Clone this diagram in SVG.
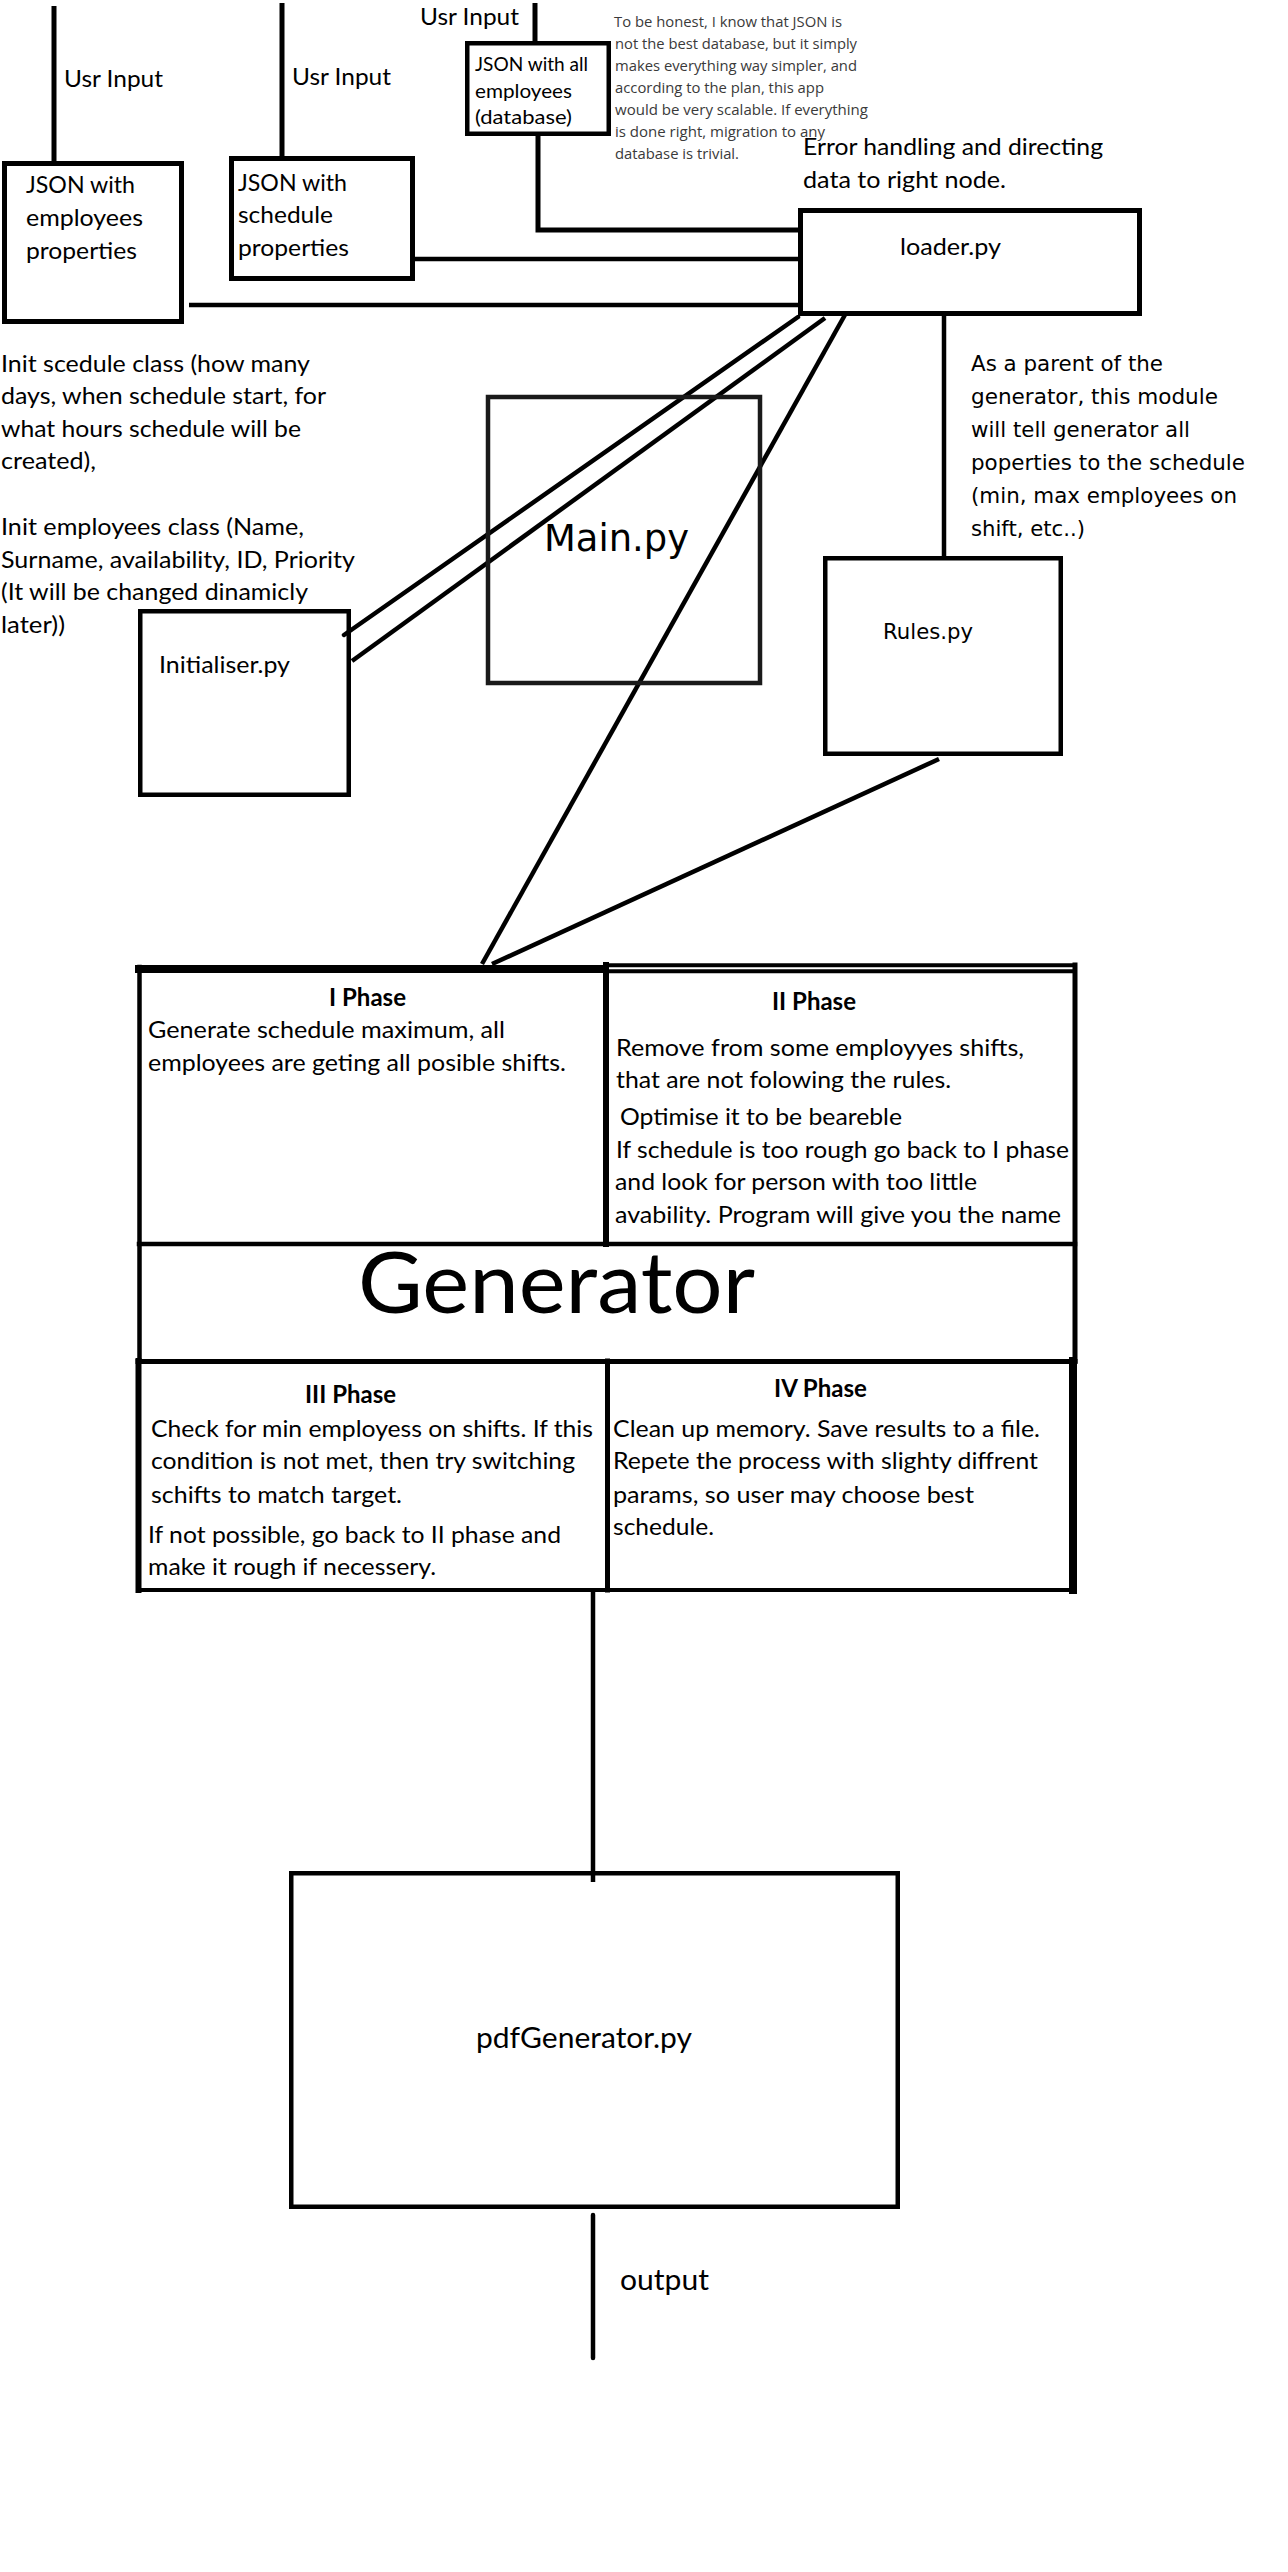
<svg xmlns="http://www.w3.org/2000/svg" width="1288" height="2572" viewBox="0 0 1288 2572">
<style>
.bg{fill:#ffffff}
.box{fill:none;stroke:#000;stroke-width:4.5}
.ln{fill:none;stroke:#000;stroke-width:4.5;stroke-linecap:butt}
.gl{fill:none;stroke:#000;stroke-linecap:square}
.c{font-family:Lato,"Liberation Sans",sans-serif;font-size:24px;fill:#000}
.cs{font-family:Lato,"Liberation Sans",sans-serif;font-size:19px;fill:#000}
.cb{font-family:Lato,"Liberation Sans",sans-serif;font-size:24px;font-weight:bold;fill:#000}
.v{font-family:"DejaVu Sans","Liberation Sans",sans-serif;font-size:21px;fill:#000}
.n{font-family:"Open Sans","Noto Sans",sans-serif;font-size:15px;fill:#3a3a3a}
</style>
<rect class="bg" x="0" y="0" width="1288" height="2572"/>

<g id="connectors">
<line class="ln" x1="54" y1="6" x2="54" y2="161" style="stroke-width:5"/>
<line class="ln" x1="282" y1="3" x2="282" y2="156" style="stroke-width:5"/>
<line class="ln" x1="535" y1="3" x2="535" y2="41" style="stroke-width:5"/>
<polyline class="ln" points="538,136 538,230 800,230" style="stroke-width:5"/>
<line class="ln" x1="415" y1="259" x2="801" y2="259"/>
<line class="ln" x1="189" y1="305" x2="801" y2="305"/>
<line class="ln" x1="944" y1="316" x2="944" y2="556"/>
<line class="ln" x1="798" y1="317" x2="344" y2="635" style="stroke-linecap:round"/>
<line class="ln" x1="825" y1="318" x2="352" y2="661"/>
<line class="ln" x1="846" y1="313" x2="482" y2="964"/>
<line class="ln" x1="939" y1="759" x2="492" y2="964"/>
<line class="ln" x1="593" y1="1590" x2="593" y2="1882"/>
<line class="ln" x1="593" y1="2215" x2="593" y2="2358" style="stroke-linecap:round"/>
</g>

<g id="usr-input-labels">
<text class="c" x="64" y="87" textLength="99" lengthAdjust="spacingAndGlyphs">Usr Input</text>
<text class="c" x="292" y="85" textLength="99" lengthAdjust="spacingAndGlyphs">Usr Input</text>
<text class="c" x="420" y="25" textLength="99" lengthAdjust="spacingAndGlyphs">Usr Input</text>
</g>

<g id="json-employees">
<rect class="box" x="4.5" y="163.5" width="177" height="158" style="stroke-width:5"/>
<text class="c" x="26" y="193" textLength="109" lengthAdjust="spacingAndGlyphs">JSON with</text>
<text class="c" x="26" y="226" textLength="117" lengthAdjust="spacingAndGlyphs">employees</text>
<text class="c" x="26" y="259" textLength="111" lengthAdjust="spacingAndGlyphs">properties</text>
</g>

<g id="json-schedule">
<rect class="box" x="231.5" y="158.5" width="181" height="120" style="stroke-width:5"/>
<text class="c" x="238" y="191" textLength="109" lengthAdjust="spacingAndGlyphs">JSON with</text>
<text class="c" x="238" y="223" textLength="95" lengthAdjust="spacingAndGlyphs">schedule</text>
<text class="c" x="238" y="256" textLength="111" lengthAdjust="spacingAndGlyphs">properties</text>
</g>

<g id="json-database">
<rect class="box" x="467.25" y="43.25" width="141.5" height="90.5"/>
<text class="cs" x="475" y="71" textLength="113" lengthAdjust="spacingAndGlyphs">JSON with all</text>
<text class="cs" x="475" y="98" textLength="97" lengthAdjust="spacingAndGlyphs">employees</text>
<text class="cs" x="475" y="124" textLength="97" lengthAdjust="spacingAndGlyphs">(database)</text>
</g>

<g id="database-note">
<text class="n" x="614" y="27" textLength="228" lengthAdjust="spacingAndGlyphs">To be honest, I know that JSON is</text>
<text class="n" x="615" y="49" textLength="242" lengthAdjust="spacingAndGlyphs">not the best database, but it simply</text>
<text class="n" x="615" y="71" textLength="242" lengthAdjust="spacingAndGlyphs">makes everything way simpler, and</text>
<text class="n" x="615" y="93" textLength="209" lengthAdjust="spacingAndGlyphs">according to the plan, this app</text>
<text class="n" x="615" y="115" textLength="253" lengthAdjust="spacingAndGlyphs">would be very scalable. If everything</text>
<text class="n" x="615" y="137" textLength="210" lengthAdjust="spacingAndGlyphs">is done right, migration to any</text>
<text class="n" x="615" y="159" textLength="124" lengthAdjust="spacingAndGlyphs">database is trivial.</text>
</g>

<g id="loader">
<text class="c" x="803" y="155" textLength="300" lengthAdjust="spacingAndGlyphs">Error handling and directing</text>
<text class="c" x="803" y="188" textLength="203" lengthAdjust="spacingAndGlyphs">data to right node.</text>
<rect class="box" x="800.5" y="210.5" width="339" height="103" style="stroke-width:5"/>
<text class="c" x="900" y="255" textLength="101" lengthAdjust="spacingAndGlyphs">loader.py</text>
</g>

<g id="init-note">
<text class="c" x="1" y="372" textLength="309" lengthAdjust="spacingAndGlyphs">Init scedule class (how many</text>
<text class="c" x="1" y="404" textLength="325" lengthAdjust="spacingAndGlyphs">days, when schedule start, for</text>
<text class="c" x="1" y="437" textLength="300" lengthAdjust="spacingAndGlyphs">what hours schedule will be</text>
<text class="c" x="1" y="469" textLength="95" lengthAdjust="spacingAndGlyphs">created),</text>
<text class="c" x="1" y="535" textLength="303" lengthAdjust="spacingAndGlyphs">Init employees class (Name,</text>
<text class="c" x="1" y="568" textLength="354" lengthAdjust="spacingAndGlyphs">Surname, availability, ID, Priority</text>
<text class="c" x="1" y="600" textLength="307" lengthAdjust="spacingAndGlyphs">(It will be changed dinamicly</text>
<text class="c" x="1" y="633" textLength="64" lengthAdjust="spacingAndGlyphs">later))</text>
</g>

<g id="main">
<rect class="box" x="488" y="397" width="272" height="286" style="stroke:#1a1a1a"/>
<text class="v" x="544" y="551" style="font-size:37px" textLength="145" lengthAdjust="spacingAndGlyphs">Main.py</text>
</g>

<g id="initialiser">
<rect class="box" x="140.25" y="611.25" width="208.5" height="183.5"/>
<text class="c" x="159" y="673" textLength="131" lengthAdjust="spacingAndGlyphs">Initialiser.py</text>
</g>

<g id="rules-note">
<text class="v" x="971" y="371" textLength="192" lengthAdjust="spacingAndGlyphs">As a parent of the</text>
<text class="v" x="971" y="404" textLength="247" lengthAdjust="spacingAndGlyphs">generator, this module</text>
<text class="v" x="971" y="437" textLength="219" lengthAdjust="spacingAndGlyphs">will tell generator all</text>
<text class="v" x="971" y="470" textLength="274" lengthAdjust="spacingAndGlyphs">poperties to the schedule</text>
<text class="v" x="971" y="503" textLength="266" lengthAdjust="spacingAndGlyphs">(min, max employees on</text>
<text class="v" x="971" y="536" textLength="114" lengthAdjust="spacingAndGlyphs">shift, etc..)</text>
</g>

<g id="rules">
<rect class="box" x="825.25" y="558.25" width="235.5" height="195.5"/>
<text class="v" x="883" y="639" textLength="90" lengthAdjust="spacingAndGlyphs">Rules.py</text>
</g>

<g id="generator">
<line class="gl" x1="139" y1="969" x2="604" y2="969" style="stroke-width:8"/>
<line class="gl" x1="606" y1="965.3" x2="1075" y2="965.3" style="stroke-width:4"/>
<line class="gl" x1="606" y1="971.3" x2="1075" y2="971.3" style="stroke-width:4"/>
<line class="gl" x1="139.5" y1="967" x2="139.5" y2="1361" style="stroke-width:4.5"/>
<line class="gl" x1="1075" y1="965" x2="1075" y2="1361" style="stroke-width:5"/>
<line class="gl" x1="606" y1="965" x2="606" y2="1244" style="stroke-width:6"/>
<line class="gl" x1="139" y1="1244" x2="1075" y2="1244" style="stroke-width:4.5"/>
<line class="gl" x1="138" y1="1361.5" x2="1075" y2="1361.5" style="stroke-width:5"/>
<line class="gl" x1="138.5" y1="1361" x2="138.5" y2="1590" style="stroke-width:6"/>
<line class="gl" x1="607.5" y1="1361" x2="607.5" y2="1590" style="stroke-width:5"/>
<line class="gl" x1="1073" y1="1361" x2="1073" y2="1590" style="stroke-width:8"/>
<line class="gl" x1="138" y1="1590" x2="1073" y2="1590" style="stroke-width:4"/>

<text class="cb" x="329" y="1006" textLength="77" lengthAdjust="spacingAndGlyphs">I Phase</text>
<text class="c" x="148" y="1038" textLength="357" lengthAdjust="spacingAndGlyphs">Generate schedule maximum, all</text>
<text class="c" x="148" y="1071" textLength="418" lengthAdjust="spacingAndGlyphs">employees are geting all posible shifts.</text>

<text class="cb" x="772" y="1010" textLength="84" lengthAdjust="spacingAndGlyphs">II Phase</text>
<text class="c" x="616" y="1056" textLength="408" lengthAdjust="spacingAndGlyphs">Remove from some employyes shifts,</text>
<text class="c" x="616" y="1088" textLength="335" lengthAdjust="spacingAndGlyphs">that are not folowing the rules.</text>
<text class="c" x="620" y="1125" textLength="282" lengthAdjust="spacingAndGlyphs">Optimise it to be beareble</text>
<text class="c" x="616" y="1158" textLength="453" lengthAdjust="spacingAndGlyphs">If schedule is too rough go back to I phase</text>
<text class="c" x="615" y="1190" textLength="362" lengthAdjust="spacingAndGlyphs">and look for person with too little</text>
<text class="c" x="615" y="1223" textLength="446" lengthAdjust="spacingAndGlyphs">avability. Program will give you the name</text>

<text class="c" x="358" y="1313" style="font-size:86px" textLength="397" lengthAdjust="spacingAndGlyphs">Generator</text>

<text class="cb" x="305" y="1403" textLength="91" lengthAdjust="spacingAndGlyphs">III Phase</text>
<text class="c" x="151" y="1437" textLength="442" lengthAdjust="spacingAndGlyphs">Check for min employess on shifts. If this</text>
<text class="c" x="151" y="1469" textLength="424" lengthAdjust="spacingAndGlyphs">condition is not met, then try switching</text>
<text class="c" x="151" y="1503" textLength="251" lengthAdjust="spacingAndGlyphs">schifts to match target.</text>
<text class="c" x="148" y="1543" textLength="413" lengthAdjust="spacingAndGlyphs">If not possible, go back to II phase and</text>
<text class="c" x="148" y="1575" textLength="288" lengthAdjust="spacingAndGlyphs">make it rough if necessery.</text>

<text class="cb" x="774" y="1397" textLength="93" lengthAdjust="spacingAndGlyphs">IV Phase</text>
<text class="c" x="613" y="1437" textLength="427" lengthAdjust="spacingAndGlyphs">Clean up memory. Save results to a file.</text>
<text class="c" x="613" y="1469" textLength="425" lengthAdjust="spacingAndGlyphs">Repete the process with slighty diffrent</text>
<text class="c" x="613" y="1503" textLength="361" lengthAdjust="spacingAndGlyphs">params, so user may choose best</text>
<text class="c" x="613" y="1535" textLength="101" lengthAdjust="spacingAndGlyphs">schedule.</text>
</g>

<g id="pdf-generator">
<rect class="box" x="291.25" y="1873.25" width="606.5" height="333.5"/>
<text class="c" x="476" y="2048" style="font-size:29px" textLength="216" lengthAdjust="spacingAndGlyphs">pdfGenerator.py</text>
</g>

<g id="output-label">
<text class="c" x="620" y="2290" style="font-size:29px" textLength="89" lengthAdjust="spacingAndGlyphs">output</text>
</g>
</svg>
